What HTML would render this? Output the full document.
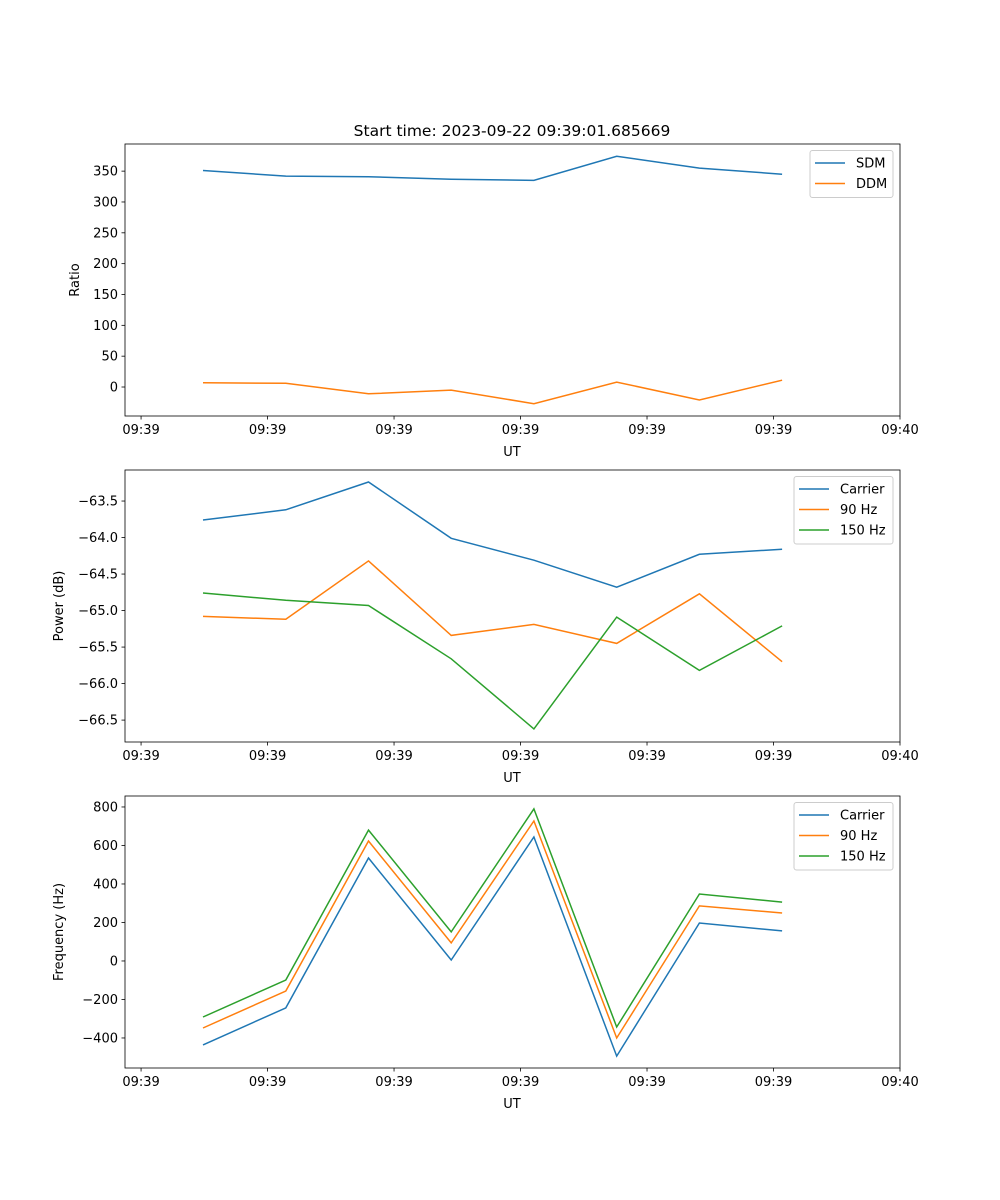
<!DOCTYPE html>
<html><head><meta charset="utf-8"><style>
body{margin:0;background:#fff}
svg{display:block;font-family:"DejaVu Sans","Liberation Sans",sans-serif}
</style></head><body>
<svg id="fig" width="1000" height="1200" xmlns="http://www.w3.org/2000/svg">
<text x="512" y="136" font-size="15.5" text-anchor="middle">Start time: 2023-09-22 09:39:01.685669</text>
</svg>
<script>
const times = [4.9, 11.44, 17.98, 24.52, 31.06, 37.6, 44.14, 50.68];
const xTickVals = [0, 10, 20, 30, 40, 50, 60];
const xTickLabels = ["09:39","09:39","09:39","09:39","09:39","09:39","09:40"];
const sdm = [351, 342, 341, 337, 335, 374, 355, 345];
const ddm = [7, 6, -11, -5, -27, 8, -21, 11];
const powCarrier = [-63.76, -63.62, -63.24, -64.01, -64.31, -64.68, -64.23, -64.16];
const pow90 = [-65.08, -65.12, -64.32, -65.34, -65.19, -65.45, -64.77, -65.70];
const pow150 = [-64.76, -64.86, -64.93, -65.66, -66.62, -65.09, -65.82, -65.21];
const freqCarrier = [-436, -244, 535, 5, 644, -494, 197, 156];
const freq90 = [-348, -156, 623, 94, 727, -400, 286, 249];
const freq150 = [-291, -99, 680, 151, 790, -343, 348, 306];
const ticks1 = [0, 50, 100, 150, 200, 250, 300, 350];
const ticks2 = [-66.5, -66.0, -65.5, -65.0, -64.5, -64.0, -63.5];
const ticks3 = [-400, -200, 0, 200, 400, 600, 800];

const NS = "http://www.w3.org/2000/svg";
const svg = document.getElementById('fig');
function mk(tag, attrs, parent){const e=document.createElementNS(NS,tag);for(const k in attrs)e.setAttribute(k,attrs[k]);(parent||svg).appendChild(e);return e;}
const L=125,R=900;
const xmin=-1.27,xmax=60;
const xs=v=>L+(v-xmin)/(xmax-xmin)*(R-L);
const colors=['#1f77b4','#ff7f0e','#2ca02c'];

function panel(name, top, bottom, ymin, ymax, yticks, fmt, ylabel, series, names, legendX){
  const g=mk('g',{});
  
  
  const ys=v=>bottom-(v-ymin)/(ymax-ymin)*(bottom-top);
  yticks.forEach(t=>{
    const y=ys(t);
    const tl=mk('line',{x1:L-3.5,x2:L,y1:y,y2:y,stroke:'#000','stroke-width':0.8},g);
    
    
    const tx=mk('text',{x:L-7,y:y+4.5,'font-size':13,'text-anchor':'end'},g);
    
    
    tx.textContent=fmt(t);
  });
  xTickVals.forEach((t,i)=>{
    const x=xs(t);
    const tl=mk('line',{x1:x,x2:x,y1:bottom,y2:bottom+3.5,stroke:'#000','stroke-width':0.8},g);
    
    
    const tx=mk('text',{x:x,y:bottom+18,'font-size':13,'text-anchor':'middle'},g);
    
    
    tx.textContent=xTickLabels[i];
  });
  const xl=mk('text',{x:512,y:bottom+40,'font-size':13,'text-anchor':'middle'},g);
  
  
  xl.textContent='UT';
  const cy=(top+bottom)/2;
  const yl=mk('text',{x:0,y:0,'font-size':13,'text-anchor':'middle',transform:`translate(${L-(ylabel==='Ratio'?46:62)},${cy}) rotate(-90)`},g);
  
  
  yl.textContent=ylabel;
  series.forEach((s,i)=>{
    const pts=s.map((v,j)=>xs(times[j]).toFixed(1)+','+ys(v).toFixed(1)).join(' ');
    const pl=mk('polyline',{points:pts,fill:'none',stroke:colors[i],'stroke-width':1.5},g);
    
    
  });
  const fr=mk('rect',{x:L,y:top,width:R-L,height:bottom-top,fill:'none',stroke:'#000','stroke-width':0.8},g);
  
  
  const lg=mk('g',{},g);
  
  
  const lh=names.length*20.5+6;
  mk('rect',{x:legendX,y:top+6.5,width:893-legendX,height:lh,fill:'#fff',stroke:'#ccc','stroke-width':1,rx:2.5},lg);
  names.forEach((n,i)=>{
    const y=top+19+i*20.5;
    const le=mk('line',{x1:legendX+5,x2:legendX+35,y1:y,y2:y,stroke:colors[i],'stroke-width':1.5},lg);
    
    
    const t=mk('text',{x:legendX+46,y:y+4.5,'font-size':13},lg);
    
    
    t.textContent=n;
  });
}
panel('ratio',144,416,-47,394,ticks1,v=>String(v),'Ratio',[sdm,ddm],['SDM','DDM'],810);
panel('power',470,742,-66.80,-63.075,ticks2,v=>v.toFixed(1).replace('-','\u2212'),'Power (dB)',[powCarrier,pow90,pow150],['Carrier','90 Hz','150 Hz'],794);
panel('frequency',796,1068,-556,857,ticks3,v=>String(v).replace('-','\u2212'),'Frequency (Hz)',[freqCarrier,freq90,freq150],['Carrier','90 Hz','150 Hz'],794);
</script>
</body></html>
